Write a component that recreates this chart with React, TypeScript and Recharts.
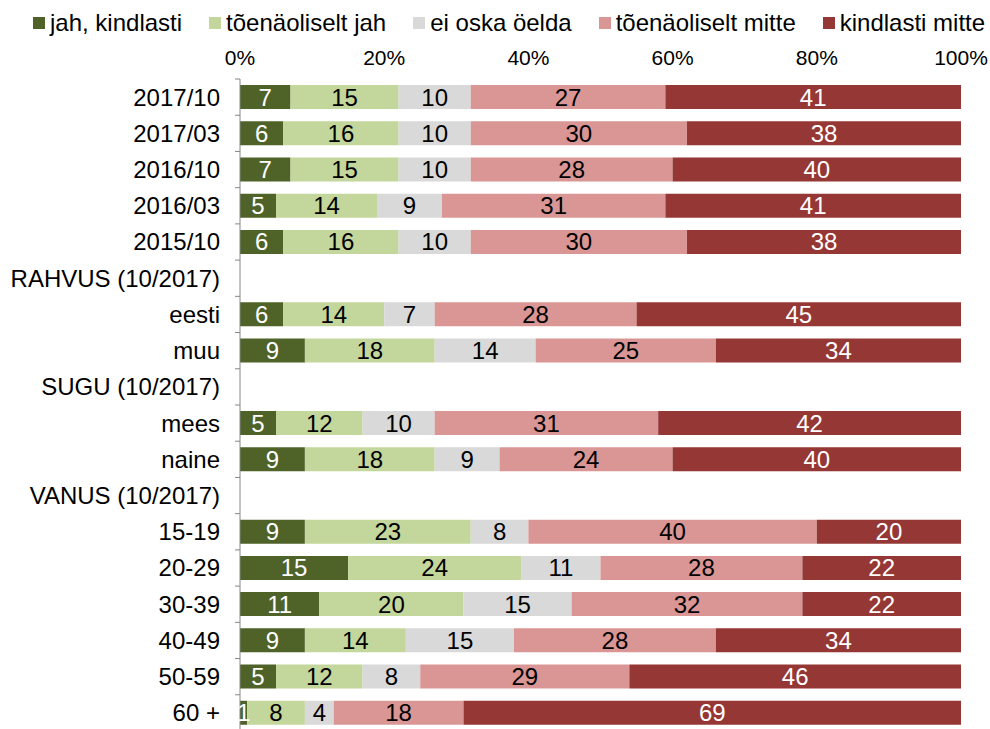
import React from 'react';
import { BarChart, Bar, XAxis, YAxis, Legend, LabelList } from 'recharts';

const categories = [
  '2017/10', '2017/03', '2016/10', '2016/03', '2015/10',
  'RAHVUS (10/2017)', 'eesti', 'muu',
  'SUGU (10/2017)', 'mees', 'naine',
  'VANUS (10/2017)', '15-19', '20-29', '30-39', '40-49', '50-59', '60 +'
];

// header rows (RAHVUS / SUGU / VANUS) carry no values
const jahKindlasti = [7, 6, 7, 5, 6, null, 6, 9, null, 5, 9, null, 9, 15, 11, 9, 5, 1];
const toenaoliseltJah = [15, 16, 15, 14, 16, null, 14, 18, null, 12, 18, null, 23, 24, 20, 14, 12, 8];
const eiOskaOelda = [10, 10, 10, 9, 10, null, 7, 14, null, 10, 9, null, 8, 11, 15, 15, 8, 4];
const toenaoliseltMitte = [27, 30, 28, 31, 30, null, 28, 25, null, 31, 24, null, 40, 28, 32, 28, 29, 18];
const kindlastiMitte = [41, 38, 40, 41, 38, null, 45, 34, null, 42, 40, null, 20, 22, 22, 34, 46, 69];

const percentTicks = [0, 20, 40, 60, 80, 100];

const SERIES = [
  { key: 'jk', name: 'jah, kindlasti', values: jahKindlasti, color: '#4F6228', label: '#FFFFFF' },
  { key: 'tj', name: 'tõenäoliselt jah', values: toenaoliseltJah, color: '#C3D69B', label: '#000000' },
  { key: 'eo', name: 'ei oska öelda', values: eiOskaOelda, color: '#D9D9D9', label: '#000000' },
  { key: 'tm', name: 'tõenäoliselt mitte', values: toenaoliseltMitte, color: '#D99694', label: '#000000' },
  { key: 'km', name: 'kindlasti mitte', values: kindlastiMitte, color: '#953735', label: '#FFFFFF' }
];

const data = categories.map((name, i) => {
  const row: any = { name };
  SERIES.forEach(s => { row[s.key] = s.values[i]; });
  return row;
});

const WIDTH = 990;
const HEIGHT = 740;
const MARGIN = { top: 49, right: 29, bottom: 9, left: 0 };
const X_AXIS_H = 30;
const ROW_H = (HEIGHT - MARGIN.top - X_AXIS_H - MARGIN.bottom) / categories.length;

const CategoryTick = ({ x, y, payload }: any) => (
  <g>
    <line x1={x - 5} x2={x} y1={y - ROW_H / 2} y2={y - ROW_H / 2} stroke="#868686" strokeWidth={1} />
    <text x={x - 20} y={y} dy="0.35em" textAnchor="end" fontSize={24} fill="#000">
      {payload.value}
    </text>
  </g>
);

// keep the legend in series order (recharts sorts the payload by name)
const renderLegend = (props: any) => {
  const payload = props.payload || [];
  const items = SERIES.map(s => payload.find((p: any) => p.value === s.name) || { value: s.name, color: s.color });
  return (
    <div style={{ display: 'flex', paddingLeft: 33, gap: 27, fontSize: 24, lineHeight: '28px', color: '#000' }}>
      {items.map((entry: any) => (
        <div key={entry.value} style={{ display: 'flex', alignItems: 'center', whiteSpace: 'nowrap' }}>
          <span style={{ display: 'inline-block', width: 12, height: 12, background: entry.color, marginRight: 5 }} />
          <span>{entry.value}</span>
        </div>
      ))}
    </div>
  );
};

export default function App() {
  return (
    <div style={{ width: WIDTH, height: 729, overflow: 'hidden', position: 'relative', fontFamily: '"Liberation Sans", Arial, sans-serif', background: '#fff' }}>
      <style>{`body{margin:0}`}</style>
      <BarChart width={WIDTH} height={HEIGHT} data={data} layout="vertical" margin={MARGIN} barSize={24}>
        <XAxis
          type="number"
          orientation="top"
          domain={[0, 100]}
          ticks={percentTicks}
          tickFormatter={(v: number) => `${v}%`}
          axisLine={false}
          tickLine={false}
          tickSize={0}
          tickMargin={14}
          height={X_AXIS_H}
          tick={{ fill: '#000', fontSize: 21 }}
          interval={0}
        />
        <YAxis
          type="category"
          dataKey="name"
          width={240}
          axisLine={{ stroke: '#868686', strokeWidth: 1 }}
          tickLine={false}
          tickSize={0}
          tickMargin={0}
          tick={<CategoryTick />}
          interval={0}
        />
        <Legend
          content={renderLegend}
          layout="horizontal"
          verticalAlign="middle"
          align="center"
          wrapperStyle={{ top: 9, left: 0, width: WIDTH }}
        />
        {SERIES.map(s => (
          <Bar key={s.key} dataKey={s.key} name={s.name} stackId="a" fill={s.color} isAnimationActive={false}>
            <LabelList dataKey={s.key} position="center" fill={s.label} fontSize={24} />
          </Bar>
        ))}
      </BarChart>
    </div>
  );
}
